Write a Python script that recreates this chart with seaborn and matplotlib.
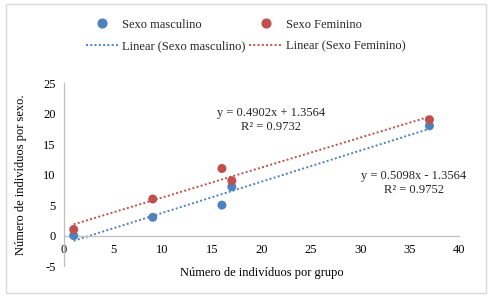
import numpy as np
import pandas as pd
import matplotlib
matplotlib.use('Agg')
import matplotlib.pyplot as plt
import seaborn as sns
from matplotlib.lines import Line2D
from matplotlib.patches import Rectangle

# ── Data ─────────────────────────────────────────────────────────────────
grupo = [1, 9, 16, 17, 37]
masculino = [0, 3, 5, 8, 18]
feminino = [1, 6, 11, 9, 19]
eq_masc = "y = 0.5098x - 1.3564\nR² = 0.9752"
eq_fem = "y = 0.4902x + 1.3564\nR² = 0.9732"

AZUL = '#4F81BD'
VERM = '#C0504D'

df = pd.DataFrame({'grupo': grupo, 'masc': masculino, 'fem': feminino})

sns.set_theme(style='white')
plt.rcParams['font.family'] = ['Liberation Serif', 'DejaVu Serif']
plt.rcParams['font.size'] = 9
plt.rcParams['axes.unicode_minus'] = False

fig = plt.figure(figsize=(4.91, 3.0), dpi=100)
ax = fig.add_axes([0.130, 0.113, 0.805, 0.610])

# trend lines (linear fit, dotted)
sns.regplot(data=df, x='grupo', y='masc', scatter=False, ci=None, truncate=True, ax=ax,
            line_kws={'color': AZUL, 'ls': (0, (1, 1.2)), 'lw': 1.4})
sns.regplot(data=df, x='grupo', y='fem', scatter=False, ci=None, truncate=True, ax=ax,
            line_kws={'color': VERM, 'ls': (0, (1, 1.2)), 'lw': 1.4})
sns.scatterplot(data=df, x='grupo', y='masc', color=AZUL, s=42, edgecolor='none', ax=ax, zorder=3)
sns.scatterplot(data=df, x='grupo', y='fem', color=VERM, s=42, edgecolor='none', ax=ax, zorder=3)

ax.set_xlim(0, 40)
ax.set_ylim(-5, 25)
ax.set_xticks(range(0, 41, 5))
ax.set_yticks(range(-5, 26, 5))
ax.tick_params(axis='both', length=0, labelsize=9, colors='black', pad=6)

for s in ['top', 'right']:
    ax.spines[s].set_visible(False)
ax.spines['bottom'].set_position(('data', 0))
for s in ['left', 'bottom']:
    ax.spines[s].set_color('#BFBFBF')
    ax.spines[s].set_linewidth(0.9)

ax.set_xlabel('Número de indivíduos por grupo', fontsize=9, color='black')
ax.xaxis.set_label_coords(0.5, -0.005)
ax.set_ylabel('Número de indivíduos por sexo.', fontsize=9, color='black')
ax.yaxis.set_label_coords(-0.093, 0.5)

ax.text(20.96, 19.0, eq_fem, ha='center', va='center', multialignment='center', fontsize=9)
ax.text(35.44, 8.58, eq_masc, ha='center', va='center', multialignment='center', fontsize=9)

handles = [
    Line2D([], [], ls='none', marker='o', color=AZUL, markersize=6.3),
    Line2D([], [], color=AZUL, ls=(0, (1, 1.2)), lw=1.4),
    Line2D([], [], ls='none', marker='o', color=VERM, markersize=6.3),
    Line2D([], [], color=VERM, ls=(0, (1, 1.2)), lw=1.4),
]
labels = ['Sexo masculino', 'Linear (Sexo masculino)', 'Sexo Feminino', 'Linear (Sexo Feminino)']
fig.legend(handles, labels, ncol=2, loc='center', bbox_to_anchor=(0.5, 0.882), frameon=False,
           fontsize=9, handlelength=2.6, handletextpad=0.3, columnspacing=0.3, labelspacing=0.75)

fig.patches.append(Rectangle((0.012, 0.023), 0.978, 0.963, transform=fig.transFigure,
                             fill=False, edgecolor='#D9D9D9', lw=1))

fig.savefig('out.png', dpi=100, facecolor='white')
